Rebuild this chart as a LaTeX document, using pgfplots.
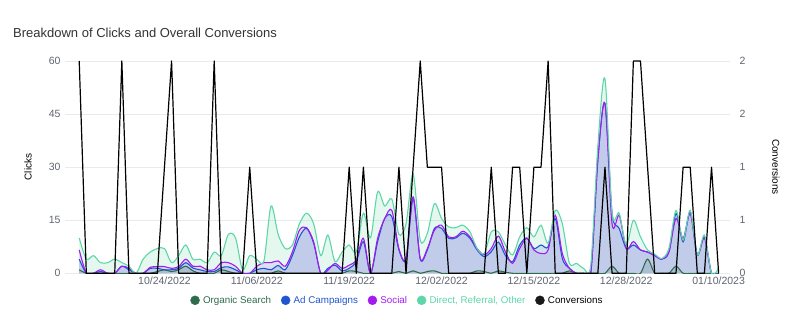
\documentclass[border=0pt]{standalone}
\usepackage{pgfplots}
\pgfplotsset{compat=1.18}
\usepackage{pgfplotstable}
\usepackage{fontspec}
\setmainfont{Liberation Sans}
\definecolor{orgc}{HTML}{2E6B4B}
\definecolor{adc}{HTML}{1F55CF}
\definecolor{socc}{HTML}{A21CF0}
\definecolor{dirc}{HTML}{5ED6A8}
\definecolor{tickc}{HTML}{5F6472}
\definecolor{gridc}{HTML}{E8EAEE}
\definecolor{titlec}{HTML}{333333}

\pgfplotstableread{
d org ad soc dir conv
0 1 4 6.6 10 2
1 0 0 0 4 0
2 0 0 0 5 0
3 0 0.5 1 3 0
4 0 0 0 3 0
5 0 0 0 4 0
6 0 2 2 3 2
7 0 1 1.4 2 0
8 0 0 0 0 0
9 0 0 0 4 0
10 0 1.4 1.7 6 0
11 0.5 1.4 1.9 7 0
12 1 1 1.9 7 1
13 0.5 1 1.4 3 2
14 1 1.4 1.9 5 0
15 2 3 4 8 0
16 0.7 1.5 2 4 0
17 0 1 2 4 0
18 0 0.5 1 3 0
19 0 0.5 1 6 2
20 1 1.6 3 5 0
21 0.5 1.8 3 11 0
22 0 1 2 10 0
23 0 0 0 1 0
24 0 0 0 5 1
25 0 1 2 4 0
26 0 1.4 3 3.5 0
27 0 1 3 19 0
28 0.7 2.2 3.5 11 0
29 0 1 2 7 0
30 0 5 6 8 0
31 0 10.3 12.2 14 0
32 0 12.7 12.9 17 0
33 0 8.5 8.9 14 0
34 0 0 0 5 0
35 0 1.4 0.9 10.8 0
36 0 2.3 2.8 3.3 0
37 0 0.7 1.4 6 0
38 0.7 1.4 2.3 8 1
39 0.5 3.3 3.8 6 0
40 0 8.9 9.9 17 1
41 0 0 0 10 0
42 0 8.9 9.9 23 0
43 0 15.5 15.5 19 0
44 0 16 17.8 21 0
45 0.5 6.6 7 11 1
46 0 4 4.2 14 0
47 0.7 21.1 21.6 28 1
48 0 4 4.2 9.4 2
49 0.5 6.6 7 11.3 1
50 0.7 12.7 12.2 19.7 1
51 0 12.7 13.6 15.5 1
52 0 9.9 10.3 13.1 0
53 0 10 10.3 12.9 0
54 0 11.3 11.9 13.6 0
55 0 9.9 10.3 11.7 0
56 0.7 6.6 7 7 0
57 0.5 4.7 5.2 5.6 0
58 0 6.1 7 11.7 1
59 0.7 8.8 10.5 11.7 0
60 0.3 5 6 8 0
61 0 3.3 2.8 5.2 1
62 0 8 7 10.3 1
63 0 10 9.9 12.9 0
64 0 7 6.6 10.3 1
65 0 8 5.6 13.6 1
66 0 7.5 6.6 8.5 2
67 0 15.5 16.4 17.8 0
68 0 4.2 5.6 14 0
69 0.7 1.4 1.4 2.8 0
70 0 0 0 2.8 0
71 0 0 0 1.4 0
72 0 0 0 2.3 0
73 0 32 32 36 0
74 0 48 48 55 1
75 2 17 14 17 0
76 0 12.7 16.4 17 0
77 0 7 7 8 0
78 0 8 9 15 2
79 0 6.6 6.6 10.3 2
80 4 6 6 6.6 1
81 0 5 5 5.4 0
82 0 4 4 4.2 0
83 0 6 6 7 0
84 2 16.9 15.5 17.8 0
85 0 8.9 9.9 9.4 1
86 0 17.4 16.9 17.8 1
87 0 5.2 5.2 5.2 0
88 0 10.3 9.9 10.8 0
89 0 0 0 0 1
90 0 0 0 1.4 0
}\datatab

\begin{document}
\begin{tikzpicture}
\path[use as bounding box] (0pt,0pt) rectangle (800pt,333pt);
\node[anchor=west, font=\fontsize{13}{15}\selectfont, text=titlec, inner sep=0pt] at (13pt,300pt) {Breakdown of Clicks and Overall Conversions};
\node[rotate=90, font=\fontsize{10}{12}\selectfont, inner sep=0pt] at (28pt,166pt) {Clicks};
\node[rotate=-90, font=\fontsize{10}{12}\selectfont, inner sep=0pt] at (776pt,166pt) {Conversions};
\begin{axis}[
  at={(65pt,59.7pt)}, anchor=south west,
  scale only axis, width=665pt, height=212.3pt,
  xmin=-2, xmax=91.6, ymin=0, ymax=60,
  axis line style={draw=none},
  ytick pos=left, xtick pos=bottom,
  ytick={0,15,30,45,60},
  ymajorgrids, grid style={gridc, line width=0.8pt},
  xtick={12,25,38,51,64,77,90},
  xticklabels={10/24/2022,11/06/2022,11/19/2022,12/02/2022,12/15/2022,12/28/2022,01/10/2023},
  major tick length=0pt,
  tick label style={font=\fontsize{10.5}{12}\selectfont, text=tickc},
  yticklabel style={xshift=-1pt},
  /pgf/number format/assume math mode=true,
  legend columns=5,
  legend cell align=left,
  legend style={at={(rel axis cs:0.5,0)}, anchor=center, xshift=0pt, yshift=-27pt, draw=none, fill=none,
    font=\fontsize{9.8}{12}\selectfont,
    /tikz/every odd column/.append style={column sep=1.5pt},
    /tikz/every even column/.append style={column sep=8pt}},
]
\addlegendimage{only marks, mark=*, mark size=4.5pt, orgc}
\addlegendentry{\textcolor{orgc}{Organic Search}}
\addlegendimage{only marks, mark=*, mark size=4.5pt, adc}
\addlegendentry{\textcolor{adc}{Ad Campaigns}}
\addlegendimage{only marks, mark=*, mark size=4.5pt, socc}
\addlegendentry{\textcolor{socc}{Social}}
\addlegendimage{only marks, mark=*, mark size=4.5pt, dirc}
\addlegendentry{\textcolor{dirc}{Direct, Referral, Other}}
\addlegendimage{only marks, mark=*, mark size=4.5pt, black!90}
\addlegendentry{Conversions}

\addplot[draw=none, fill=dirc, fill opacity=0.17, smooth, forget plot] table[x=d,y=dir]{\datatab} \closedcycle;
\addplot[draw=none, fill=socc, fill opacity=0.11, smooth, forget plot] table[x=d,y=soc]{\datatab} \closedcycle;
\addplot[draw=none, fill=adc, fill opacity=0.14, smooth, forget plot] table[x=d,y=ad]{\datatab} \closedcycle;
\addplot[draw=none, fill=orgc, fill opacity=0.15, smooth, forget plot] table[x=d,y=org]{\datatab} \closedcycle;

\addplot[orgc, line width=1.1pt, smooth, forget plot] table[x=d,y=org]{\datatab};
\addplot[adc, line width=1.1pt, smooth, forget plot] table[x=d,y=ad]{\datatab};
\addplot[socc, line width=1.1pt, smooth, forget plot] table[x=d,y=soc]{\datatab};
\addplot[dirc, line width=1.1pt, smooth, forget plot] table[x=d,y=dir]{\datatab};
\end{axis}
\begin{axis}[
  at={(65pt,59.7pt)}, anchor=south west,
  scale only axis, width=665pt, height=212.3pt,
  xmin=-2, xmax=91.6, ymin=0, ymax=2,
  axis line style={draw=none},
  axis y line*=right, axis x line=none,
  ytick={0,0.5,1,1.5,2}, yticklabels={0,1,1,2,2},
  major tick length=0pt,
  tick label style={font=\fontsize{10.5}{12}\selectfont, text=tickc},
  yticklabel style={xshift=6pt},
  clip=false,
]
\addplot[black, line width=1.2pt, line join=round] table[x=d,y=conv]{\datatab};
\end{axis}
\end{tikzpicture}
\end{document}
